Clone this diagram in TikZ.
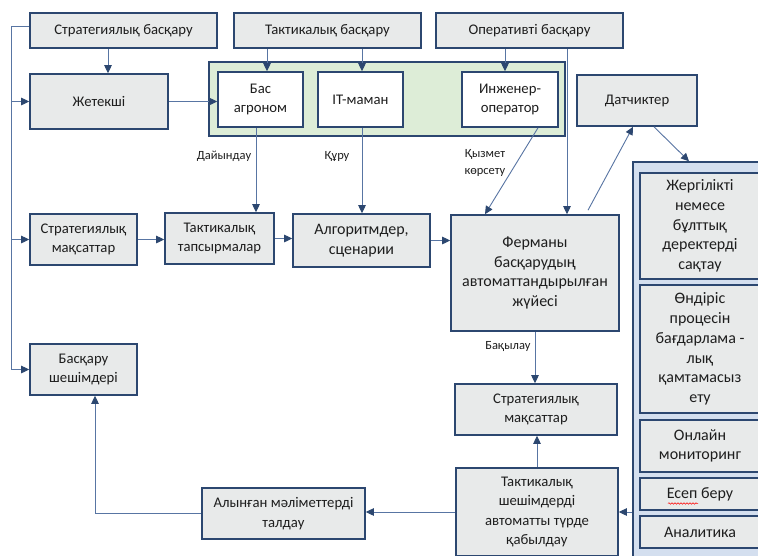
\documentclass[tikz,border=0pt]{standalone}
\usepackage{fontspec}
\setmainfont{Carlito}
\usetikzlibrary{arrows.meta,decorations.pathmorphing}
\definecolor{bord}{HTML}{2C4770}
\definecolor{boxfill}{HTML}{E8EAEA}
\definecolor{lin}{HTML}{5875A3}
\definecolor{grn}{HTML}{DDEDD7}
\definecolor{pnlc}{HTML}{D4DFEF}
\definecolor{txt}{HTML}{1E1E1E}
\begin{document}
\begin{tikzpicture}[x=1pt,y=-1pt,
  box/.style={draw=bord, line width=1.6pt, fill=boxfill, text=txt, align=center, inner sep=2pt,
    font=\fontsize{14.7}{19.5}\selectfont},
  wbox/.style={box, fill=white},
  bigbox/.style={box, font=\fontsize{16}{19.7}\selectfont},
  lbl/.style={text=txt, align=center, inner sep=0pt, font=\fontsize{12.5}{16.5}\selectfont},
  arr/.style={draw=lin, line width=0.9pt, -{Triangle[length=8pt,width=7.5pt,color=bord]}},
  ln/.style={draw=lin, line width=0.9pt}]
\useasboundingbox (0,0) rectangle (758,555);
\clip (0,0) rectangle (758,555);
\fill[white] (0,0) rectangle (758,555);

% top row
\node[box, minimum width=187pt, minimum height=35pt] (sb) at (123.5,30.5) {Стратегиялық басқару};
\node[box, minimum width=187pt, minimum height=35pt] (tb) at (327.5,30.5) {Тактикалық басқару};
\node[box, minimum width=187pt, minimum height=35pt] (ob) at (529.5,30.5) {Оперативті басқару};

% group
\node[draw=bord, line width=1.6pt, fill=grn, minimum width=356pt, minimum height=74pt] (grp) at (387,99) {};
\node[wbox, minimum width=85pt, minimum height=55pt] (ba) at (260.5,99.5) {Бас\\агроном};
\node[wbox, minimum width=85pt, minimum height=55pt] (it) at (360.5,99.5) {IT-маман};
\node[wbox, minimum width=96pt, minimum height=55pt] (io) at (510,99.5) {Инженер-\\оператор};

\node[box, minimum width=138pt, minimum height=55pt] (zh) at (99,101.5) {Жетекші};
\node[box, minimum width=120pt, minimum height=51pt] (dat) at (637,100.5) {Датчиктер};

% middle row
\node[box, minimum width=107pt, minimum height=51pt] (sm1) at (83.5,239.5) {Стратегиялық\\мақсаттар};
\node[box, minimum width=109pt, minimum height=51pt] (tt) at (219.5,238.5) {Тактикалық\\тапсырмалар};
\node[bigbox, minimum width=137pt, minimum height=53pt] (alg) at (361.5,240.5) {Алгоритмдер,\\сценарии};
\node[bigbox, minimum width=168pt, minimum height=116pt] (fer) at (535,273) {Ферманы\\басқарудың\\автоматтандырылған\\жүйесі};
\node[box, minimum width=107pt, minimum height=51pt] (bsh) at (83.5,369.5) {Басқару\\шешімдері};

% right panel
\node[draw=bord, line width=1.6pt, fill=pnlc, minimum width=142pt, minimum height=413pt] (pnl) at (704,368.5) {};
\node[bigbox, minimum width=120pt, minimum height=106pt] (j1) at (700,226) {Жергілікті\\немесе\\бұлттық\\деректерді\\сақтау};
\node[bigbox, minimum width=120pt, minimum height=128pt] (j2) at (700,349) {Өндіріс\\процесін\\бағдарлама -\\лық\\қамтамасыз\\ету};
\node[bigbox, minimum width=120pt, minimum height=52pt] (j3) at (700,446) {Онлайн\\мониторинг};
\node[bigbox, minimum width=120pt, minimum height=32pt] (j4) at (700,494) {Есеп беру};
\node[bigbox, minimum width=120pt, minimum height=32pt] (j5) at (700,532) {Аналитика};
\draw[red, line width=0.5pt, decorate, decoration={snake, amplitude=0.8pt, segment length=3pt}] (668,503.5) -- (698,503.5);

% bottom
\node[box, minimum width=162pt, minimum height=51pt] (sm2) at (536,409.5) {Стратегиялық\\мақсаттар};
\node[box, minimum width=162pt, minimum height=88pt] (ts) at (537,512) {Тактикалық\\шешімдерді\\автоматты түрде\\қабылдау};
\node[box, minimum width=163pt, minimum height=51pt] (al) at (283.5,513.5) {Алынған мәліметтерді\\талдау};

% labels
\node[lbl] (l1) at (224,156) {Дайындау};
\node[lbl] (l2) at (337,156) {Құру};
\node[lbl] (l3) at (485,163) {Қызмет\\көрсету};
\node[lbl] (l4) at (508,347) {Бақылау};

% connectors
\draw[arr] ([xshift=-15.5pt]sb.south) -- ([xshift=9pt]zh.north);
\draw[arr] ([xshift=-60.5pt]tb.south) -- ([xshift=6.5pt]ba.north);
\draw[arr] ([xshift=34.5pt]tb.south) -- ([xshift=1.5pt]it.north);
\draw[arr] ([xshift=-24.5pt]ob.south) -- ([xshift=-5pt]io.north);
\draw[arr] ([xshift=37.5pt]ob.south) -- ([xshift=32pt]fer.north);
\draw[arr] (zh.east) -- (zh.east -| ba.west);

\coordinate (lt) at (11,26);
\draw[ln] (sb.west |- lt) -- (lt) -- (lt |- bsh.west);
\draw[arr] (lt |- zh.west) -- (zh.west);
\draw[arr] (lt |- sm1.west) -- (sm1.west);
\draw[arr] (lt |- bsh.west) -- (bsh.west);

\draw[arr] ([xshift=-4.5pt]ba.south) -- ([xshift=36.5pt]tt.north);
\draw[arr] ([xshift=1.5pt]it.south) -- ([xshift=0.5pt]alg.north);
\draw[arr] ([xshift=28pt]io.south) -- ([xshift=-50pt]fer.north);
\draw[arr] ([xshift=53pt,yshift=4pt]fer.north) -- ([xshift=-4pt]dat.south);
\draw[arr] ([xshift=17pt]dat.south) -- ([xshift=-15pt]pnl.north);

\draw[arr] (sm1.east) -- (sm1.east -| tt.west);
\draw[arr] (tt.east) -- (tt.east -| alg.west);
\draw[arr] (alg.east) -- (alg.east -| fer.west);

\draw[arr] (fer.south) -- (fer.south |- sm2.north);
\draw[arr] (ts.north) -- (ts.north |- sm2.south);
\draw[arr] (pnl.west |- ts.east) -- (ts.east);
\draw[arr] (ts.west) -- (ts.west -| al.east);
\coordinate (bl) at ([xshift=11.5pt]bsh.south);
\draw[arr] (al.west) -- (al.west -| bl) -- (bl);
\end{tikzpicture}
\end{document}
